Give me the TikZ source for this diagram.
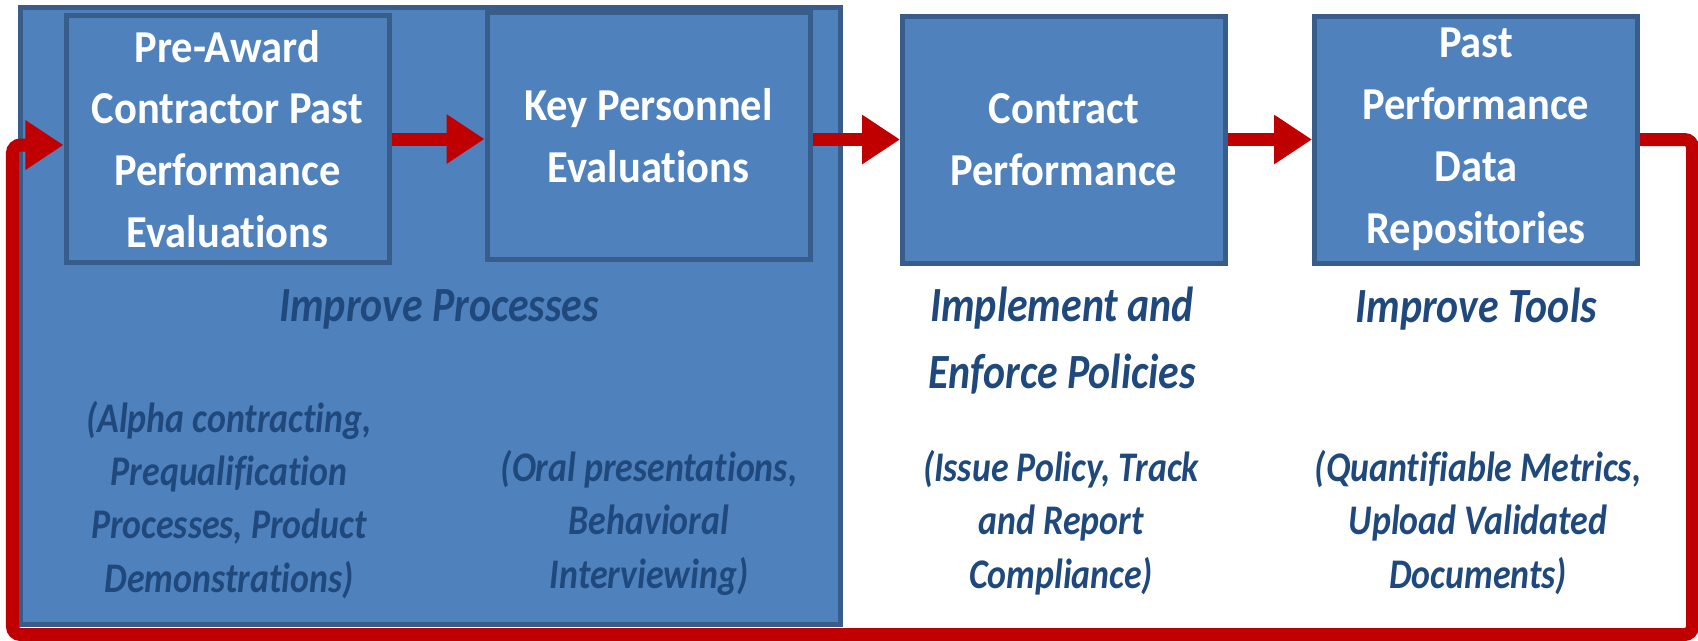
\documentclass[tikz,border=0pt]{standalone}
\usepackage{fontspec}
\setmainfont{Carlito}
\newfontfamily\boxfont[FakeStretch=0.93, Ligatures=NoCommon]{Carlito}
\newfontfamily\notefont[FakeStretch=0.85, Ligatures=NoCommon]{Carlito}
\usetikzlibrary{arrows.meta}

\begin{document}
\begin{tikzpicture}
\definecolor{my_fill}{RGB}{79,129,189}
\definecolor{my_edge}{RGB}{56,93,138}
\definecolor{my_red}{RGB}{192,0,0}
\definecolor{my_text}{RGB}{31,73,125}
\tikzset{
  area/.style={rectangle, line width=0.050000cm, draw=my_edge, fill=my_fill, inner sep=0pt},
  stage/.style={area, minimum width=3.230000cm, minimum height=2.470000cm, align=center, text=white, font=\boxfont\bfseries\fontsize{13}{17.6}\selectfont},
  goal/.style={anchor=base, align=center, text=my_text, font=\notefont\bfseries\itshape\fontsize{14}{18.8}\selectfont},
  detail/.style={anchor=base, align=center, text=my_text, font=\notefont\bfseries\itshape\fontsize{12}{15.1}\selectfont},
  flow/.style={line width=0.130000cm, draw=my_red, -{Triangle[length=0.380000cm, width=0.470000cm]}},
}
\useasboundingbox (0.000000,0.000000) rectangle (16.980000,-6.400000);
\node[area, minimum width=8.200000cm, minimum height=6.170000cm] (procarea) at (4.305000,-3.160000) {};
\node[stage] (preaward) at (2.275000,-1.390000) {Pre-Award\\Contractor Past\\Performance\\Evaluations};
\node[stage, minimum height=2.465000cm] (keypers) at (6.485000,-1.360000) {Key Personnel\\Evaluations};
\node[stage] (contract) at (10.640000,-1.395000) {Contract\\Performance};
\node[stage] (repos) at (14.760000,-1.395000) {Past\\Performance\\Data\\Repositories};
% base = last line
\node[goal] (procgoal) at (4.390000,-3.210000) {Improve Processes};
\node[goal] (policygoal) at (10.620000,-3.880000) {Implement and\\Enforce Policies};
\node[goal] (toolgoal) at (14.760000,-3.220000) {Improve Tools};
\node[detail] (procnote) at (2.290000,-5.920000) {(Alpha contracting,\\Prequalification\\Processes, Product\\Demonstrations)};
\node[detail] (keynote) at (6.490000,-5.880000) {(Oral presentations,\\Behavioral\\Interviewing)};
\node[detail] (policynote) at (10.610000,-5.880000) {(Issue Policy, Track\\and Report\\Compliance)};
\node[detail] (toolnote) at (14.780000,-5.880000) {(Quantifiable Metrics,\\Upload Validated\\Documents)};
\draw[flow] (preaward.east) -- (preaward.east -| keypers.west);
\draw[flow] (keypers.east |- contract.west) -- (contract.west);
\draw[flow] (contract.east) -- (repos.west);
\coordinate (loopse) at (16.925000,-6.345000);
\coordinate (loopsw) at (0.125000,-6.345000);
\draw[flow, rounded corners=0.080000cm] (repos.east) -| (loopse) -- (loopsw) |- ([yshift=-0.060000cm]preaward.west);
\end{tikzpicture}
\end{document}
